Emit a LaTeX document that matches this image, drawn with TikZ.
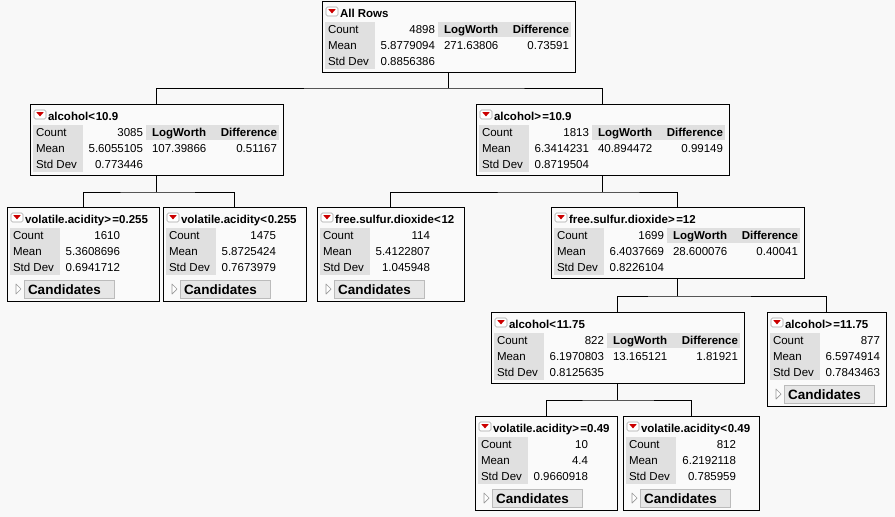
\documentclass[tikz,border=0pt]{standalone}
\usepackage{fontspec}
\setmainfont{Liberation Sans}
\definecolor{bgcol}{HTML}{F8F8F8}
\definecolor{boxbg}{HTML}{FAFAFA}
\definecolor{lblgray}{HTML}{E0E0E0}
\definecolor{jmpred}{HTML}{CC0000}
\definecolor{btnfill}{HTML}{E6E6E6}
\definecolor{btnline}{HTML}{BBBBBB}
\tikzset{
  nodebox/.style={draw=black, line width=1pt, fill=boxbg, inner sep=0pt, outer sep=0pt, anchor=north west},
  conn/.style={draw=black, line width=1pt},
  txt/.style={inner sep=0pt, outer sep=0pt, font=\fontsize{11.5}{13}\selectfont},
  btxt/.style={inner sep=0pt, outer sep=0pt, font=\fontsize{11.5}{13}\selectfont\bfseries},
  ctxt/.style={inner sep=0pt, outer sep=0pt, font=\fontsize{13.5}{15}\selectfont\bfseries},
  iconbox/.style={draw=gray!70, fill=white, line width=0.6pt, rounded corners=1.5pt},
  btnbox/.style={draw=btnline, fill=btnfill, line width=0.8pt},
  disc/.style={draw=gray!80, fill=white, line width=0.7pt, line join=round},
}
\newcommand{\jmphead}[5]{%
  \draw[iconbox] (4,6) rectangle (16,15);
  \fill[jmpred] (6.3,8.2) -- (13.7,8.2) -- (10,12.4) -- cycle;
  \node[btxt, anchor=base west] (#1-t) at (18,16) {#2};
  \fill[lblgray] (3,21) rectangle (53,68);
  \node[txt, anchor=base west] (#1-l1) at (6,32) {Count};
  \node[txt, anchor=base west] (#1-l2) at (6,48) {Mean};
  \node[txt, anchor=base west] (#1-l3) at (6,64) {Std Dev};
  \node[txt, anchor=base east] (#1-v1) at (113,32) {#3};
  \node[txt, anchor=base east] (#1-v2) at (113,48) {#4};
  \node[txt, anchor=base east] (#1-v3) at (113,64) {#5};
}
\newcommand{\fourbox}[9]{%
  \node[nodebox, minimum width=253pt, minimum height=71pt] (#1) at (#2,#3) {};
  \begin{scope}[shift={(#2,#3)}]
    \jmphead{#1}{#4}{#5}{#6}{#7}
    \fill[lblgray] (116,21) rectangle (249,36);
    \node[btxt, anchor=base west] (#1-h1) at (122,32) {LogWorth};
    \node[btxt, anchor=base east] (#1-h2) at (247,32) {Difference};
    \node[txt, anchor=base west] (#1-w) at (122,48) {#8};
    \node[txt, anchor=base east] (#1-d) at (247,48) {#9};
  \end{scope}}
\newcommand{\leafbox}[8]{%
  \node[nodebox, minimum width=#4pt, minimum height=94pt] (#1) at (#2,#3) {};
  \begin{scope}[shift={(#2,#3)}]
    \jmphead{#1}{#5}{#6}{#7}{#8}
    \draw[btnbox] (17,73) rectangle (107,91);
    \draw[disc] (9,77) -- (14,82) -- (9,87) -- cycle;
    \node[ctxt, anchor=base west] (#1-c) at (21,87) {Candidates};
  \end{scope}}
\newcommand{\gtq}{>\kern1.5pt=}
\newcommand{\ltq}{<\kern0.8pt}
\begin{document}
\begin{tikzpicture}[x=1pt,y=-1pt]
\useasboundingbox (0,0) rectangle (895,517);
\fill[bgcol] (0,0) rectangle (895,517);

\fourbox{root}{322}{1}{All Rows}{4898}{5.8779094}{0.8856386}{271.63806}{0.73591}
\fourbox{a}{30}{104}{alcohol\ltq 10.9}{3085}{5.6055105}{0.773446}{107.39866}{0.51167}
\fourbox{b}{476}{104}{alcohol\gtq 10.9}{1813}{6.3414231}{0.8719504}{40.894472}{0.99149}
\leafbox{c}{7}{207}{152}{volatile.acidity\gtq 0.255}{1610}{5.3608696}{0.6941712}
\leafbox{d}{163}{207}{143}{volatile.acidity\ltq 0.255}{1475}{5.8725424}{0.7673979}
\leafbox{e}{317}{207}{147}{free.sulfur.dioxide\ltq 12}{114}{5.4122807}{1.045948}
\fourbox{f}{551}{207}{free.sulfur.dioxide\gtq 12}{1699}{6.4037669}{0.8226104}{28.600076}{0.40041}
\fourbox{g}{491}{312}{alcohol\ltq 11.75}{822}{6.1970803}{0.8125635}{13.165121}{1.81921}
\leafbox{h}{767}{312}{119}{alcohol\gtq 11.75}{877}{6.5974914}{0.7843463}
\leafbox{i}{475}{416}{142}{volatile.acidity\gtq 0.49}{10}{4.4}{0.9660918}
\leafbox{j}{623}{416}{136}{volatile.acidity\ltq 0.49}{812}{6.2192118}{0.785959}

\path (root.south) ++(0,16) coordinate (j0);
\path (a.south) ++(0,17) coordinate (j1);
\path (b.south) ++(0,17) coordinate (j2);
\path (f.south) ++(0,18) coordinate (j3);
\path (g.south) ++(0,17) coordinate (j4);
\draw[conn] (root.south) -- (j0);
\draw[conn] (a.north) |- (j0) -| (b.north);
\draw[conn] (a.south) -- (j1);
\draw[conn] (c.north) |- (j1) -| (d.north);
\draw[conn] (b.south) -- (j2);
\draw[conn] (e.north) |- (j2) -| (f.north);
\draw[conn] (f.south) -- (j3);
\draw[conn] (g.north) |- (j3) -| (h.north);
\draw[conn] (g.south) -- (j4);
\draw[conn] (i.north) |- (j4) -| (j.north);
\end{tikzpicture}
\end{document}
